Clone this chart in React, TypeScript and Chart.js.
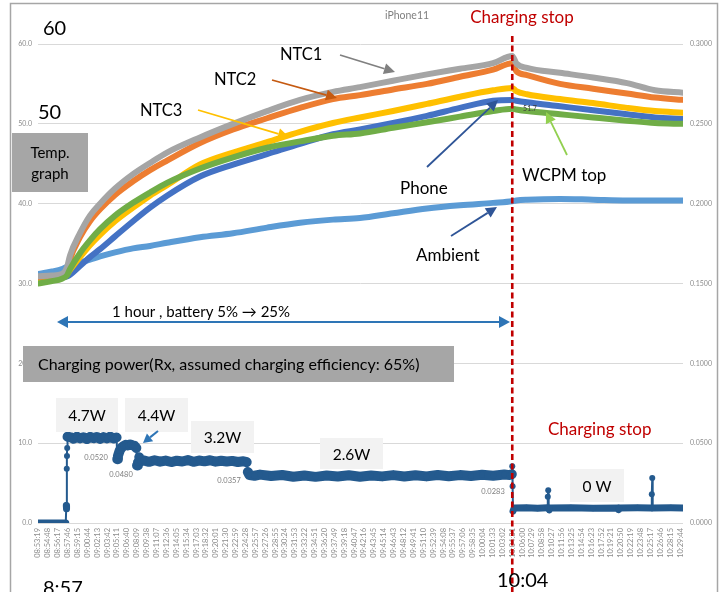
import React, { useEffect, useRef } from "react";
import { Chart, registerables } from "chart.js";
Chart.register(...registerables);

// ---------- data ----------
const tickLabels = [
  "08:53:19", "08:54:48", "08:56:17", "08:57:46", "08:59:15", "09:00:44", "09:02:13", "09:03:42", "09:05:11", "09:06:40",
  "09:08:09", "09:09:38", "09:11:07", "09:12:36", "09:14:05", "09:15:34", "09:17:03", "09:18:32", "09:20:01", "09:21:30",
  "09:22:59", "09:24:28", "09:25:57", "09:27:26", "09:28:55", "09:30:24", "09:31:53", "09:33:22", "09:34:51", "09:36:20",
  "09:37:49", "09:39:18", "09:40:47", "09:42:16", "09:43:45", "09:45:14", "09:46:43", "09:48:12", "09:49:41", "09:51:10",
  "09:52:39", "09:54:08", "09:55:37", "09:57:06", "09:58:35", "10:00:04", "10:01:33", "10:03:02", "10:04:31", "10:06:00",
  "10:07:29", "10:08:58", "10:10:27", "10:11:56", "10:13:25", "10:14:54", "10:16:23", "10:17:52", "10:19:21", "10:20:50",
  "10:22:19", "10:23:48", "10:25:17", "10:26:46", "10:28:15", "10:29:44",
];
const startClock = "08:53:19";
const stopClock = "10:04:31";
const endSeconds = 5810;

// temperature samples (seconds after 08:53:19)
const tempTimes = [0, 126, 216, 261, 288, 378, 468, 559, 694, 856, 1009, 1162, 1459, 1757, 2063, 2360, 2657, 2900, 3198, 3504, 3801, 4099, 4272, 4308, 4405, 4702, 5000, 5306, 5558, 5810];
const ntc1 = [30.9, 31.0, 31.2, 32.0, 33.5, 36.3, 38.5, 40.0, 41.9, 43.7, 45.1, 46.4, 48.3, 50.0, 51.6, 53.0, 54.0, 54.6, 55.4, 56.2, 56.9, 57.6, 58.5, 57.6, 57.0, 56.4, 55.8, 55.1, 54.2, 53.9];
const ntc2 = [30.8, 30.9, 31.0, 31.4, 33.0, 35.8, 37.8, 39.3, 41.1, 42.8, 44.2, 45.4, 47.6, 49.3, 50.7, 52.0, 53.1, 53.6, 54.3, 55.0, 55.9, 56.8, 57.6, 56.6, 56.1, 55.0, 54.4, 53.8, 53.3, 53.0];
const ntc3 = [30.5, 30.6, 30.8, 31.2, 31.7, 33.3, 34.8, 36.1, 37.8, 39.5, 41.0, 42.3, 44.9, 46.4, 47.7, 49.0, 50.1, 50.8, 51.6, 52.5, 53.4, 54.2, 54.5, 54.1, 53.7, 53.1, 52.6, 52.0, 51.6, 51.4];
const phone = [30.8, 30.8, 30.8, 30.9, 31.1, 32.2, 33.3, 34.3, 35.9, 37.8, 39.5, 41.0, 43.4, 44.9, 46.2, 47.5, 48.7, 49.3, 50.1, 51.0, 52.0, 52.9, 53.0, 52.9, 52.7, 52.2, 51.7, 51.2, 50.8, 50.6];
const wcpmTop = [30.0, 30.3, 30.6, 31.0, 31.8, 33.8, 35.4, 36.8, 38.5, 40.1, 41.4, 42.6, 44.4, 45.8, 47.0, 47.8, 48.5, 48.8, 49.5, 50.2, 50.9, 51.6, 51.9, 51.8, 51.6, 51.2, 50.8, 50.4, 50.1, 50.0];
const ambient = [31.2, 31.5, 31.8, 32.1, 32.2, 32.6, 33.0, 33.4, 33.9, 34.4, 34.7, 35.1, 35.8, 36.3, 37.0, 37.6, 38.0, 38.2, 38.8, 39.4, 39.8, 40.1, 40.3, 40.4, 40.5, 40.6, 40.5, 40.4, 40.4, 40.4];

// charging power samples (right axis)
const powerTimes = [
  0, 250, 255, 257, 259, 261, 263, 266, 290, 320,
  350, 380, 410, 440, 470, 500, 530, 560, 590, 620,
  650, 680, 708, 714, 720, 735, 750, 770, 790, 810,
  830, 850, 870, 886, 892, 900, 912, 922, 950, 1000,
  1050, 1100, 1150, 1200, 1250, 1300, 1350, 1400, 1450, 1500,
  1550, 1600, 1650, 1700, 1750, 1800, 1850, 1880, 1890, 1905,
  1950, 2000, 2100, 2200, 2300, 2400, 2500, 2600, 2700, 2800,
  2900, 3000, 3100, 3200, 3300, 3400, 3500, 3600, 3700, 3800,
  3900, 4000, 4100, 4200, 4250, 4268, 4272, 4275, 4279, 4290,
  4400, 4500, 4588, 4592, 4596, 4600, 4606, 4612, 4800, 5000,
  5225, 5230, 5235, 5400, 5525, 5529, 5533, 5537, 5700, 5810,
];
const powerValues = [
  0, 0, 0.011, 0.009, 0.034, 0.042, 0.047, 0.054, 0.0538, 0.0528,
  0.0541, 0.053, 0.0537, 0.0526, 0.054, 0.0531, 0.0539, 0.0527, 0.0538, 0.053,
  0.0541, 0.0529, 0.0536, 0.04, 0.042, 0.0452, 0.047, 0.0482, 0.049, 0.0486,
  0.0492, 0.0487, 0.0483, 0.047, 0.036, 0.0378, 0.0412, 0.0386, 0.0392, 0.0383,
  0.0393, 0.0384, 0.0391, 0.0382, 0.039, 0.0385, 0.0394, 0.0383, 0.0391, 0.0386,
  0.0393, 0.0384, 0.039, 0.0385, 0.0389, 0.0382, 0.0387, 0.0381, 0.032, 0.03,
  0.0296, 0.0303, 0.0294, 0.0301, 0.029, 0.0298, 0.0289, 0.0297, 0.0291, 0.0299,
  0.029, 0.0298, 0.0292, 0.03, 0.0291, 0.0299, 0.0292, 0.0301, 0.0293, 0.03,
  0.0294, 0.0302, 0.0296, 0.0304, 0.03, 0.0306, 0.0356, 0.023, 0.0075, 0.0094,
  0.0096, 0.0093, 0.0095, 0.0165, 0.0205, 0.0094, 0.0082, 0.0094, 0.0096, 0.0093,
  0.0094, 0.0084, 0.0094, 0.0095, 0.0094, 0.018, 0.0282, 0.0094, 0.0095, 0.0094,
];
const powerLevelLabels = ["4.7W", "4.4W", "3.2W", "2.6W", "0 W"];
const powerDataLabels = ["0.0520", "0.0480", "0.0357", "0.0283"];

// ---------- helpers ----------
const toSec = (s: string) => {
  const [h, m, x] = s.split(":").map(Number);
  return h * 3600 + m * 60 + x;
};
const base = toSec(startClock);
const tickSeconds = tickLabels.map((l) => toSec(l) - base);
const stopSeconds = toSec(stopClock) - base;

const FONT = "Lato, 'Open Sans', sans-serif";

function text(ctx: CanvasRenderingContext2D, s: string, x: number, y: number, size: number, color: string, align: CanvasTextAlign = "left", baseline: CanvasTextBaseline = "middle") {
  ctx.save();
  ctx.font = `${size}px ${FONT}`;
  ctx.fillStyle = color;
  ctx.textAlign = align;
  ctx.textBaseline = baseline;
  ctx.fillText(s, x, y);
  ctx.restore();
}

function head(ctx: CanvasRenderingContext2D, fx: number, fy: number, tx: number, ty: number, len: number, hw: number) {
  const a = Math.atan2(ty - fy, tx - fx);
  const bx = tx - len * Math.cos(a);
  const by = ty - len * Math.sin(a);
  ctx.beginPath();
  ctx.moveTo(tx, ty);
  ctx.lineTo(bx + hw * Math.sin(a), by - hw * Math.cos(a));
  ctx.lineTo(bx - hw * Math.sin(a), by + hw * Math.cos(a));
  ctx.closePath();
  ctx.fill();
  return [bx, by];
}

function arrow(ctx: CanvasRenderingContext2D, x1: number, y1: number, x2: number, y2: number, color: string, w = 1.8, len = 11, hw = 5.5, both = false) {
  ctx.save();
  ctx.strokeStyle = color;
  ctx.fillStyle = color;
  ctx.lineWidth = w;
  const [ex, ey] = head(ctx, x1, y1, x2, y2, len, hw);
  let sx = x1, sy = y1;
  if (both) {
    const r = head(ctx, x2, y2, x1, y1, len, hw);
    sx = r[0]; sy = r[1];
  }
  ctx.beginPath();
  ctx.moveTo(sx, sy);
  ctx.lineTo(ex, ey);
  ctx.stroke();
  ctx.restore();
}

function box(ctx: CanvasRenderingContext2D, x: number, y: number, w: number, h: number, fill: string) {
  ctx.save();
  ctx.fillStyle = fill;
  ctx.fillRect(x, y, w, h);
  ctx.restore();
}

const annotations = {
  id: "annotations",
  afterDraw(chart: any) {
    const ctx: CanvasRenderingContext2D = chart.ctx;
    const xs = chart.scales.x;
    // outer frame
    ctx.save();
    ctx.strokeStyle = "#a6a6a6";
    ctx.lineWidth = 1.5;
    ctx.strokeRect(10.5, 3.5, 707, 640);
    ctx.restore();

    // charging stop line
    const sx = xs.getPixelForValue(stopSeconds);
    ctx.save();
    ctx.strokeStyle = "#c00000";
    ctx.lineWidth = 2.6;
    ctx.setLineDash([6, 3.5]);
    ctx.beginPath();
    ctx.moveTo(sx, 36);
    ctx.lineTo(sx, 600);
    ctx.stroke();
    ctx.restore();

    // titles
    text(ctx, "iPhone11", 407, 16, 10.5, "#7f7f7f", "center");
    text(ctx, "Charging stop", 522, 18, 17, "#c00000", "center");
    text(ctx, "Charging stop", 548, 430, 17, "#c00000", "left");
    text(ctx, "60", 43, 35, 20, "#000000", "left", "alphabetic");
    text(ctx, "50", 38, 119, 20, "#000000", "left", "alphabetic");
    text(ctx, "8:57", 43, 595, 20, "#000000", "left", "alphabetic");
    text(ctx, "10:04", 497, 587, 20, "#000000", "left", "alphabetic");

    // series labels + arrows
    text(ctx, "NTC1", 280, 55, 16.5, "#000000");
    arrow(ctx, 340, 55, 395, 72, "#808080");
    text(ctx, "NTC2", 214, 80, 16.5, "#000000");
    arrow(ctx, 272, 80, 337, 98, "#c55a11");
    text(ctx, "NTC3", 140, 111, 16.5, "#000000");
    arrow(ctx, 198, 110, 289, 137, "#ffc000");
    text(ctx, "Phone", 400, 189, 17, "#000000");
    arrow(ctx, 427, 167, 498, 100, "#2f5597");
    text(ctx, "Ambient", 416, 256, 17, "#000000");
    arrow(ctx, 451, 236, 497, 207, "#2f5597");
    text(ctx, "WCPM top", 522, 176, 17, "#000000");
    arrow(ctx, 567, 155, 546, 112, "#92d050");
    text(ctx, "51.7", 530, 109, 7, "#3a3a3a", "center");

    // temp graph box
    box(ctx, 12, 133, 76, 59, "#a6a6a6");
    text(ctx, "Temp.", 50, 153, 15, "#000000", "center");
    text(ctx, "graph", 50, 174, 15, "#000000", "center");

    // 1 hour arrow
    arrow(ctx, 57, 322, 510, 322, "#2e75b6", 1.8, 11, 6, true);
    text(ctx, "1 hour , battery 5% \u2192 25%", 112, 312, 15, "#000000");

    // charging power box
    box(ctx, 23, 346, 431, 36, "#a6a6a6");
    text(ctx, "Charging power(Rx, assumed charging efficiency: 65%)", 38, 365, 16, "#000000");

    // power level boxes
    const lv: [number, number, number, number][] = [
      [56, 398, 62, 34],
      [125, 398, 63, 34],
      [191, 421, 63, 32],
      [320, 438, 63, 31],
      [570, 469, 54, 33],
    ];
    lv.forEach((b, i) => {
      box(ctx, b[0], b[1], b[2], b[3], "#f2f2f2");
      text(ctx, powerLevelLabels[i], b[0] + b[2] / 2, b[1] + b[3] / 2 + 1, 15.5, "#000000", "center");
    });
    arrow(ctx, 158, 431, 143, 443, "#2e75b6", 2, 9, 5);

    // data labels
    const dl: [number, number][] = [[96, 458], [121, 475], [229, 481], [493, 492]];
    dl.forEach((p, i) => text(ctx, powerDataLabels[i], p[0], p[1], 7.5, "#7f7f7f", "center"));
  },
};

export default function App() {
  const ref = useRef<HTMLCanvasElement | null>(null);
  useEffect(() => {
    if (!ref.current) return;
    const temp = (vals: number[]) => tempTimes.map((t, i) => ({ x: t, y: vals[i] }));
    const tempDs = (label: string, vals: number[], color: string) => ({
      label,
      data: temp(vals),
      borderColor: color,
      backgroundColor: color,
      borderWidth: 6,
      pointRadius: 0,
      cubicInterpolationMode: "monotone" as const,
      borderCapStyle: "round" as const,
      borderJoinStyle: "round" as const,
      yAxisID: "y",
    });
    const powerColor = "#245a8e";
    const chart = new Chart(ref.current, {
      type: "line",
      data: {
        datasets: [
          tempDs("WCPM top", wcpmTop, "#70ad47"),
          tempDs("NTC1", ntc1, "#a5a5a5"),
          tempDs("NTC2", ntc2, "#ed7d31"),
          tempDs("NTC3", ntc3, "#ffc000"),
          tempDs("Phone", phone, "#4472c4"),
          tempDs("Ambient", ambient, "#5b9bd5"),
          {
            label: "Charging power",
            data: powerTimes.map((t, i) => ({ x: t, y: powerValues[i] })),
            borderColor: powerColor,
            backgroundColor: powerColor,
            pointBackgroundColor: powerColor,
            pointBorderWidth: 0,
            pointRadius: 3,
            borderWidth: 10,
            borderJoinStyle: "round",
            borderCapStyle: "round",
            yAxisID: "y2",
            segment: {
              borderWidth: (c: any) => {
                if (Math.abs(c.p1.x - c.p0.x) < 1.5 && Math.abs(c.p1.y - c.p0.y) > 5) return 2;
                if (c.p0.parsed.y < 0.0125 && c.p1.parsed.y < 0.0125) return 7;
                return 10;
              },
            },
          } as any,
        ],
      },
      options: {
        animation: false,
        responsive: true,
        maintainAspectRatio: false,
        layout: { padding: { top: 44, left: 0, right: 0, bottom: 0 } },
        plugins: { legend: { display: false }, tooltip: { enabled: false } },
        scales: {
          x: {
            type: "linear",
            min: 0,
            max: endSeconds,
            grid: { display: false, drawTicks: false },
            border: { display: false },
            afterBuildTicks: (s: any) => {
              s.ticks = tickSeconds.map((v) => ({ value: v }));
            },
            afterFit: (s: any) => {
              s.height = 69;
            },
            ticks: {
              autoSkip: false,
              maxRotation: 90,
              minRotation: 90,
              padding: 5,
              color: "#8c8c8c",
              font: { family: FONT, size: 7.5 },
              callback: (v: any) => {
                const i = tickSeconds.indexOf(Number(v));
                return i >= 0 ? tickLabels[i] : "";
              },
            },
          },
          y: {
            position: "left",
            min: 0,
            max: 60,
            border: { display: false },
            grid: { color: "#d9d9d9", drawTicks: false, lineWidth: 1 },
            afterFit: (s: any) => {
              s.width = 38;
            },
            ticks: {
              stepSize: 10,
              padding: 6,
              color: "#8c8c8c",
              font: { family: FONT, size: 7 },
              callback: (v: any) => Number(v).toFixed(1),
            },
          },
          y2: {
            position: "right",
            min: 0,
            max: 0.3,
            border: { display: false },
            grid: { display: false, drawTicks: false },
            afterFit: (s: any) => {
              s.width = 42;
            },
            ticks: {
              stepSize: 0.05,
              padding: 7,
              color: "#8c8c8c",
              font: { family: FONT, size: 7 },
              callback: (v: any) => Number(v).toFixed(4),
            },
          },
        },
      },
      plugins: [annotations],
    });
    return () => chart.destroy();
  }, []);
  return (
    <div style={{ position: "absolute", left: 0, top: 0, width: 725, height: 592, background: "#ffffff", overflow: "hidden" }}>
      <canvas ref={ref} />
    </div>
  );
}
